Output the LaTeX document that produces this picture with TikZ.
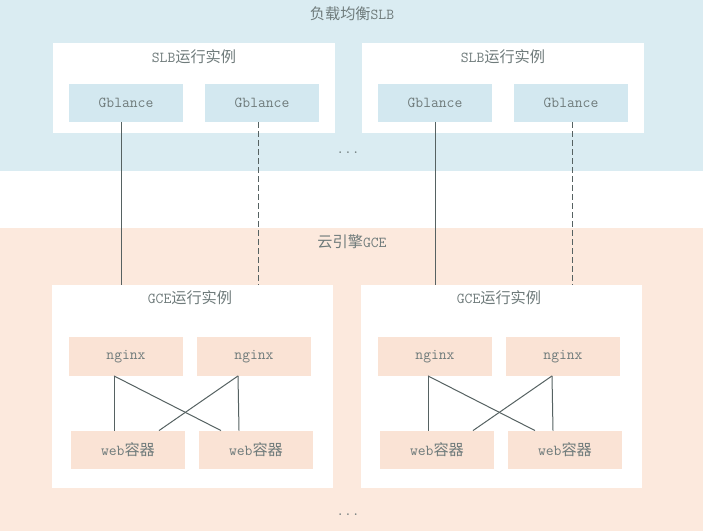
\documentclass[tikz,border=0pt]{standalone}
\usepackage{fontspec}
\newfontfamily\cjk{Noto Sans CJK SC}
\definecolor{slbbg}{HTML}{DAECF2}
\definecolor{gbfill}{HTML}{D3E8F0}
\definecolor{gcebg}{HTML}{FCE9DD}
\definecolor{ngfill}{HTML}{FAE3D5}
\definecolor{textgray}{HTML}{6F7B7B}
\definecolor{linegray}{HTML}{566262}

\tikzset{
  txt/.style={text=textgray, font=\ttfamily\fontsize{11.4}{13}\selectfont, inner sep=1pt},
  inst/.style={fill=white, inner sep=0pt},
  smallbox/.style={txt, minimum width=85.5pt, minimum height=28.75pt, inner sep=0pt},
  conn/.style={draw=linegray, line width=0.75pt},
  dashconn/.style={conn, dash pattern=on 4.5pt off 2.25pt}
}

\begin{document}
\begin{tikzpicture}[x=0.75pt, y=-0.75pt]
  \useasboundingbox (0,0) rectangle (703,531);
  % the two regions
  \fill[slbbg] (0,0) rectangle (703,171);
  \fill[gcebg] (0,228) rectangle (703,531);
  \node[txt] (slbtitle) at (352,14) {{\cjk 负载均衡}SLB};
  \node[txt] (gcetitle) at (352,242) {{\cjk 云引擎}GCE};
  \node[txt] (dotsslb) at (348,153) {...};
  \node[txt] (dotsgce) at (348,515) {...};

  \foreach \i/\dx/\ls in {a/0/0pt, b/309/3.75pt} {
    % SLB instance
    \node[inst, minimum width=211.5pt, minimum height=67.5pt] (slb\i) at (194+\dx,88) {};
    \node[txt] (slblabel\i) at (194+\dx,57) {SLB{\cjk 运行实例}};
    \node[smallbox, fill=gbfill] (gb\i1) at (126+\dx,103) {Gblance};
    \node[smallbox, fill=gbfill] (gb\i2) at (262+\dx,103) {Gblance};
    % GCE instance
    \node[inst, minimum width=210.75pt, minimum height=152.25pt] (gce\i) at (192.5+\dx,386.5) {};
    \node[txt] (gcelabel\i) at (190+\dx,298) {GCE{\cjk 运行实例}};
    \node[smallbox, fill=ngfill] (ng\i1) at (126+\dx,356.5) {nginx};
    \node[smallbox, fill=ngfill] (ng\i2) at (254+\dx,356.5) {nginx};
    \node[smallbox, fill=ngfill] (web\i1) at (128+\dx,450) {web{\cjk 容器}};
    \node[smallbox, fill=ngfill] (web\i2) at (256+\dx,450) {web{\cjk 容器}};
    % SLB -> GCE
    \draw[conn] ([xshift={-3.75pt+\ls}]gb\i1.south) -- ([xshift={-3.75pt+\ls}]gb\i1.south |- gce\i.north);
    \draw[dashconn] ([xshift={-3pt+\ls}]gb\i2.south) -- ([xshift={-3pt+\ls}]gb\i2.south |- gce\i.north);
    % nginx -> web
    \draw[conn] ([xshift={-9pt+\ls}]ng\i1.south) -- ([xshift={-10.5pt+\ls}]web\i1.north);
    \draw[conn] ([xshift={-9pt+\ls}]ng\i1.south) -- ([xshift={-26.25pt+\ls}]web\i2.north);
    \draw[conn] ([xshift={-12pt+\ls}]ng\i2.south) -- ([xshift={23.25pt+\ls}]web\i1.north);
    \draw[conn] ([xshift={-12pt+\ls}]ng\i2.south) -- ([xshift={-12.75pt+\ls}]web\i2.north);
  }
\end{tikzpicture}
\end{document}
